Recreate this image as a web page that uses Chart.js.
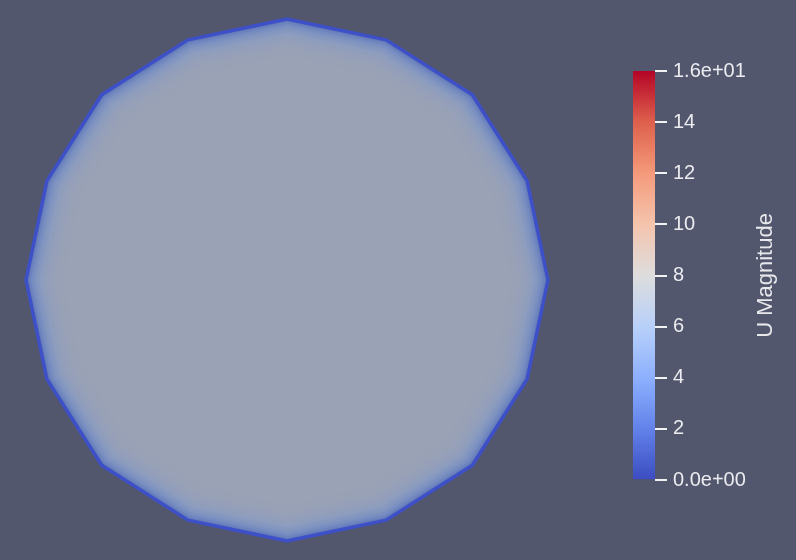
<!DOCTYPE html>
<html>
<head>
<meta charset="utf-8">
<script src="https://cdn.jsdelivr.net/npm/chart.js@4.4.1/dist/chart.umd.min.js"></script>
<style>
  html, body { margin: 0; padding: 0; background: rgb(82, 87, 110); }
  #wrap { position: relative; width: 796px; height: 560px; overflow: hidden; }
  #fieldBox { position: absolute; left: 0; top: 0; width: 796px; height: 560px; }
  #barBox { position: absolute; left: 620px; top: 0; width: 176px; height: 560px; }
</style>
</head>
<body>
<div id="wrap">
  <div id="fieldBox"><canvas id="fieldChart"></canvas></div>
  <div id="barBox"><canvas id="barChart"></canvas></div>
</div>
<script>
// boundary of the section (16 corners, radius = 1)
const boundaryX = [1.00, 0.92, 0.71, 0.38, 0.00, -0.38, -0.71, -0.92, -1.00, -0.92, -0.71, -0.38, 0.00, 0.38, 0.71, 0.92];
const boundaryY = [0.00, 0.38, 0.71, 0.92, 1.00, 0.92, 0.71, 0.38, 0.00, -0.38, -0.71, -0.92, -1.00, -0.92, -0.71, -0.38];

// contour bands from the wall inwards: relative radius and U magnitude
const bandRadius = [1.000, 0.993, 0.986, 0.978, 0.970, 0.962, 0.953, 0.944, 0.934, 0.922, 0.908, 0.890, 0.860];
const bandValue  = [1.5, 2.6, 3.4, 4.1, 4.7, 5.2, 5.6, 6.0, 6.3, 6.6, 6.85, 7.05, 7.2];

// colour bar
const uMin = 0;
const uMax = 16;
const tickStep = 2;
const barTitle = 'U Magnitude';

const BG = [82, 87, 110];
const coolWarm = [
    [0.000, [59, 76, 192]],
    [0.125, [98, 130, 234]],
    [0.250, [141, 176, 254]],
    [0.375, [184, 208, 249]],
    [0.500, [221, 221, 221]],
    [0.625, [245, 196, 173]],
    [0.750, [244, 154, 123]],
    [0.875, [222, 96, 77]],
    [1.000, [180, 4, 38]]
];

function colorAt(t) {
    t = Math.max(0, Math.min(1, t));
    for (let i = 1; i < coolWarm.length; i++) {
        if (t <= coolWarm[i][0]) {
            const a = coolWarm[i - 1], b = coolWarm[i];
            const f = (t - a[0]) / (b[0] - a[0]);
            return a[1].map((c, k) => c + (b[1][k] - c) * f);
        }
    }
    return coolWarm[coolWarm.length - 1][1];
}

function rgb(c) {
    return 'rgb(' + c.map(v => Math.round(v)).join(',') + ')';
}

// surface looks dimmed by the lighting, pull it towards the background
function shaded(value) {
    const c = colorAt((value - uMin) / (uMax - uMin));
    return rgb(c.map((v, k) => v * 0.58 + BG[k] * 0.42));
}

function polygon(scale) {
    const pts = boundaryX.map((x, i) => ({ x: x * scale, y: boundaryY[i] * scale }));
    pts.push(pts[0]);
    return pts;
}

// ---- field chart ----
const PX = 261, CX = 287, CY = 280, W = 796, H = 560;

const datasets = [];
bandRadius.forEach(function (r, i) {
    datasets.push({
        data: polygon(r),
        showLine: true,
        fill: 'shape',
        backgroundColor: shaded(bandValue[i]),
        borderColor: shaded(bandValue[i]),
        borderWidth: i === 0 ? 0 : 2,
        borderJoinStyle: 'round',
        pointRadius: 0,
        order: bandRadius.length - i + 1
    });
});
datasets.push({
    data: polygon(1),
    showLine: true,
    fill: false,
    borderColor: 'rgb(62, 80, 200)',
    borderWidth: 3.5,
    borderJoinStyle: 'round',
    pointRadius: 0,
    order: 0
});

new Chart(document.getElementById('fieldChart'), {
    type: 'scatter',
    data: { datasets: datasets },
    options: {
        responsive: true,
        maintainAspectRatio: false,
        animation: false,
        layout: { padding: 0 },
        plugins: { legend: { display: false }, tooltip: { enabled: false } },
        scales: {
            x: { display: false, min: -CX / PX, max: (W - CX) / PX },
            y: { display: false, min: -(H - CY) / PX, max: CY / PX }
        }
    }
});

// ---- colour bar ----
const titlePlugin = {
    id: 'barTitle',
    afterDraw(chart) {
        const ctx = chart.ctx;
        const area = chart.chartArea;
        ctx.save();
        ctx.translate(chart.width - 30, (area.top + area.bottom) / 2);
        ctx.rotate(-Math.PI / 2);
        ctx.fillStyle = '#e8e8ec';
        ctx.font = '22px "Liberation Sans", Arial, sans-serif';
        ctx.textAlign = 'center';
        ctx.textBaseline = 'middle';
        ctx.fillText(barTitle, 0, 0);
        ctx.restore();
    }
};

new Chart(document.getElementById('barChart'), {
    type: 'bar',
    data: {
        labels: [''],
        datasets: [{
            data: [[uMin, uMax]],
            barPercentage: 1,
            categoryPercentage: 1,
            borderWidth: 0,
            borderSkipped: false,
            backgroundColor: function (context) {
                const chart = context.chart;
                if (!chart.chartArea) return 'rgb(221,221,221)';
                const y = chart.scales.y;
                const g = chart.ctx.createLinearGradient(0, y.getPixelForValue(uMin), 0, y.getPixelForValue(uMax));
                coolWarm.forEach(s => g.addColorStop(s[0], rgb(s[1])));
                return g;
            }
        }]
    },
    options: {
        responsive: true,
        maintainAspectRatio: false,
        animation: false,
        layout: { padding: { top: 71, bottom: 80, left: 13, right: 0 } },
        plugins: { legend: { display: false }, tooltip: { enabled: false } },
        scales: {
            x: { display: false },
            y: {
                position: 'right',
                min: uMin,
                max: uMax,
                afterFit: function (scale) { scale.width = 141; },
                border: { display: false },
                grid: { drawOnChartArea: false, color: '#f2f2f2', lineWidth: 2, tickLength: 12 },
                ticks: {
                    stepSize: tickStep,
                    padding: 6,
                    color: '#ececf0',
                    font: { family: '"Liberation Sans", Arial, sans-serif', size: 20 },
                    callback: function (v) {
                        if (v === uMax || v === uMin) return Number(v).toExponential(1).replace(/e([+-])(\d)$/, 'e$10$2');
                        return String(v);
                    }
                }
            }
        }
    },
    plugins: [titlePlugin]
});
</script>
</body>
</html>
